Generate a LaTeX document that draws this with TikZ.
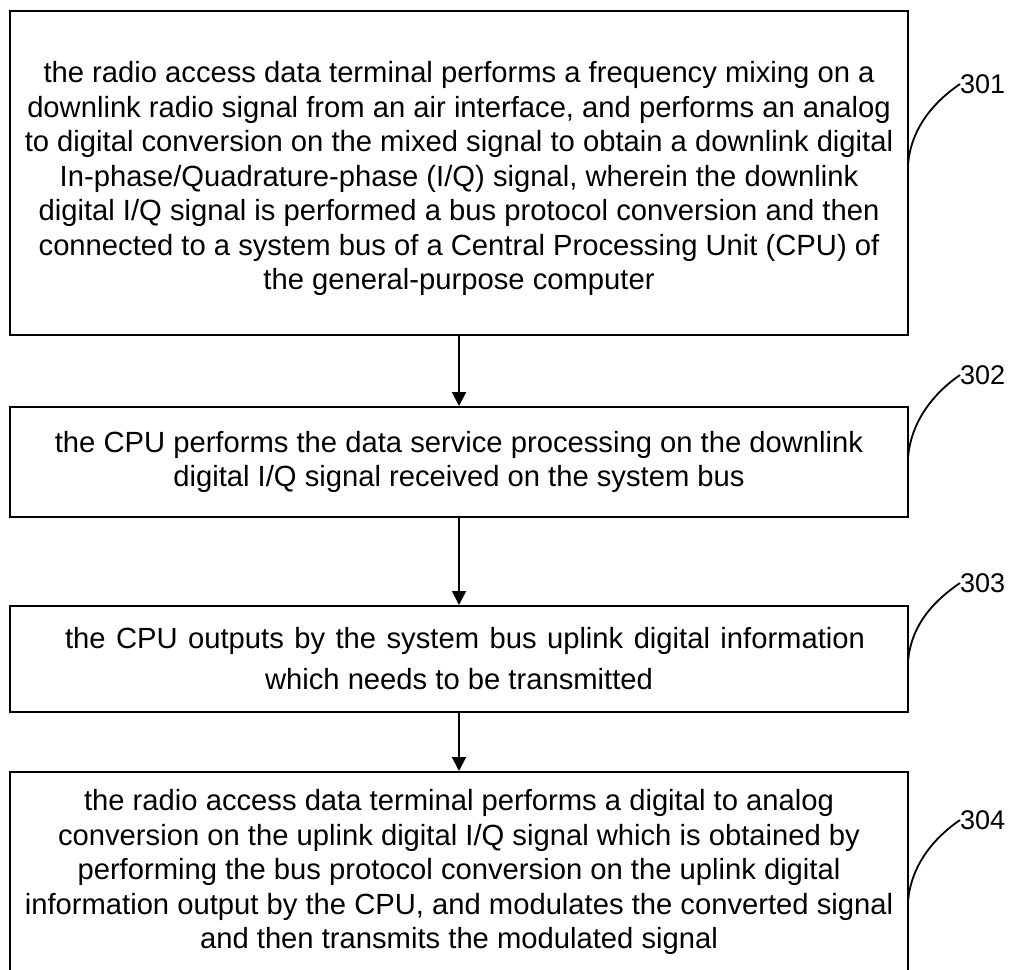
\documentclass[tikz,border=0pt]{standalone}
\usepackage{fontspec}
\setmainfont{Liberation Sans}
\usetikzlibrary{arrows.meta}
\begin{document}
\begin{tikzpicture}[x=1pt,y=-1pt,
  stepbox/.style={draw,line width=2pt,align=center,inner sep=0pt,
    minimum width=898pt,font=\fontsize{29.2}{34.5}\selectfont},
  flow/.style={line width=2pt,-{Triangle[width=14pt,length=14pt]}},
  lead/.style={line width=1.8pt},
  lab/.style={font=\fontsize{27}{32}\selectfont,inner sep=0pt,anchor=west}]
\useasboundingbox (0,0) rectangle (1014,969);
\node[stepbox,minimum height=324pt] (b1) at (459,173) {\mbox{}\\[-1.5pt]the radio access data terminal performs a frequency mixing on a\\
downlink radio signal from an air interface, and performs an analog\\
to digital conversion on the mixed signal to obtain a downlink digital\\
In-phase/Quadrature-phase (I/Q) signal, wherein the downlink\\
digital I/Q signal is performed a bus protocol conversion and then\\
connected to a system bus of a Central Processing Unit (CPU) of\\
the general-purpose computer};
\node[stepbox,minimum height=110pt] (b2) at (459,462) {the CPU performs the data service processing on the downlink\\
digital I/Q signal received on the system bus};
\node[stepbox,minimum height=106pt,font=\fontsize{29.2}{41}\selectfont] (b3) at (459,659) {\hspace*{12pt}\makebox[800pt][s]{the CPU outputs by the system bus uplink digital information}\\
which needs to be transmitted};
\node[stepbox,minimum height=200pt] (b4) at (459,872) {the radio access data terminal performs a digital to analog\\
conversion on the uplink digital I/Q signal which is obtained by\\
performing the bus protocol conversion on the uplink digital\\
information output by the CPU, and modulates the converted signal\\
and then transmits the modulated signal};
\draw[flow] (b1.south) -- (b2.north);
\draw[flow] (b2.south) -- (b3.north);
\draw[flow] (b3.south) -- (b4.north);
\node[lab] (l1) at (960,84) {301};
\node[lab] (l2) at (960,375) {302};
\node[lab] (l3) at (960,583) {303};
\node[lab] (l4) at (960,820) {304};
\coordinate (c1) at (908,165);
\coordinate (c2) at (908,458);
\coordinate (c3) at (908,662);
\coordinate (c4) at (908,902);
\draw[lead] (c1) .. controls ++(3,-40) and ++(-22,15) .. (l1.west);
\draw[lead] (c2) .. controls ++(3,-40) and ++(-22,15) .. (l2.west);
\draw[lead] (c3) .. controls ++(3,-40) and ++(-22,15) .. (l3.west);
\draw[lead] (c4) .. controls ++(3,-40) and ++(-22,15) .. (l4.west);
\end{tikzpicture}
\end{document}
